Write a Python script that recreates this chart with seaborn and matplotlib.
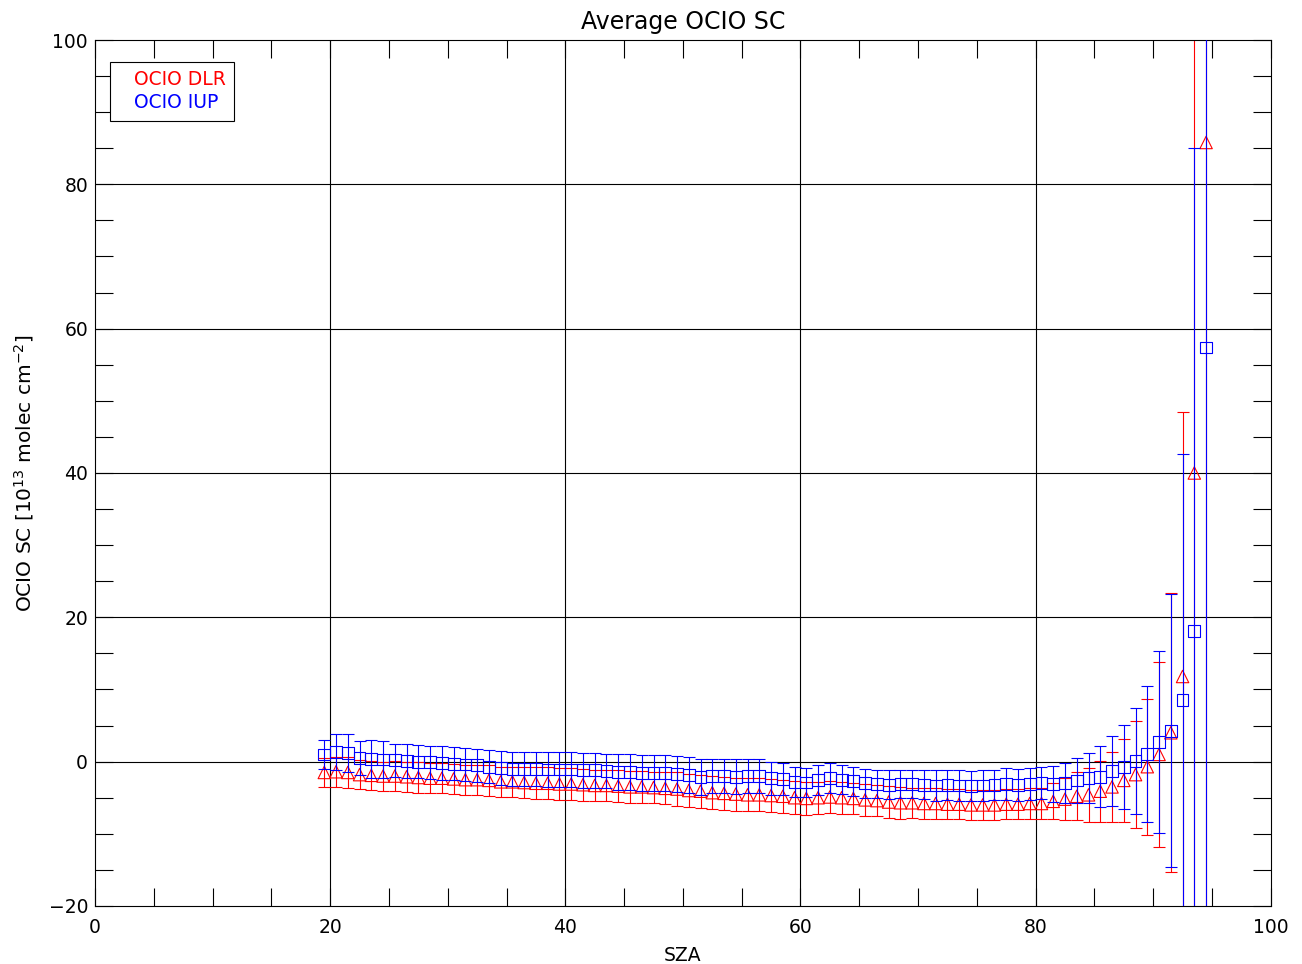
import matplotlib
matplotlib.use('Agg')
import matplotlib.pyplot as plt
from matplotlib.lines import Line2D
from matplotlib.ticker import MultipleLocator
import pandas as pd
import seaborn as sns

# solar zenith angle bins
sza = [19.5, 20.5, 21.5, 22.5, 23.5, 24.5, 25.5, 26.5, 27.5, 28.5,
       29.5, 30.5, 31.5, 32.5, 33.5, 34.5, 35.5, 36.5, 37.5, 38.5,
       39.5, 40.5, 41.5, 42.5, 43.5, 44.5, 45.5, 46.5, 47.5, 48.5,
       49.5, 50.5, 51.5, 52.5, 53.5, 54.5, 55.5, 56.5, 57.5, 58.5,
       59.5, 60.5, 61.5, 62.5, 63.5, 64.5, 65.5, 66.5, 67.5, 68.5,
       69.5, 70.5, 71.5, 72.5, 73.5, 74.5, 75.5, 76.5, 77.5, 78.5,
       79.5, 80.5, 81.5, 82.5, 83.5, 84.5, 85.5, 86.5, 87.5, 88.5,
       89.5, 90.5, 91.5, 92.5, 93.5, 94.5]

# OClO slant columns, DLR
dlr = [-1.5, -1.4, -1.5, -1.8, -1.9, -2.0, -2.0, -2.1, -2.2, -2.3,
       -2.3, -2.4, -2.5, -2.5, -2.6, -2.8, -2.8, -2.9, -3.0, -3.0,
       -3.1, -3.1, -3.2, -3.3, -3.3, -3.4, -3.5, -3.5, -3.6, -3.7,
       -3.8, -4.0, -4.1, -4.3, -4.4, -4.5, -4.6, -4.6, -4.7, -4.8,
       -5.0, -5.1, -5.0, -4.9, -5.0, -5.1, -5.3, -5.4, -5.6, -5.7,
       -5.7, -5.8, -5.8, -5.9, -5.9, -6.0, -6.0, -6.0, -5.9, -5.9,
       -5.8, -5.8, -5.5, -5.2, -4.8, -4.6, -4.1, -3.5, -2.6, -1.8,
       -0.7, 1.0, 4.0, 11.8, 40.0, 85.8]
dlr_err = [2.0, 2.1, 2.1, 2.0, 2.0, 2.0, 2.1, 2.1, 2.1, 2.1,
           2.1, 2.1, 2.1, 2.1, 2.1, 2.1, 2.1, 2.1, 2.2, 2.2,
           2.2, 2.2, 2.2, 2.2, 2.2, 2.2, 2.2, 2.2, 2.2, 2.2,
           2.3, 2.3, 2.3, 2.3, 2.3, 2.3, 2.3, 2.3, 2.3, 2.3,
           2.3, 2.3, 2.2, 2.2, 2.2, 2.2, 2.2, 2.2, 2.2, 2.2,
           2.1, 2.1, 2.1, 2.1, 2.1, 2.1, 2.1, 2.1, 2.1, 2.1,
           2.2, 2.2, 2.5, 2.9, 3.3, 3.7, 4.2, 4.8, 5.8, 7.4,
           9.4, 12.8, 19.3, 36.7, 75.0, 120.0]

# OClO slant columns, IUP
iup = [1.0, 1.3, 1.2, 0.5, 0.4, 0.3, 0.2, 0.1, 0.0, -0.1,
       -0.2, -0.3, -0.4, -0.5, -0.7, -0.9, -1.0, -1.0, -1.0, -1.1,
       -1.1, -1.1, -1.2, -1.2, -1.3, -1.4, -1.4, -1.6, -1.6, -1.6,
       -1.7, -1.9, -2.1, -2.0, -2.0, -2.1, -2.0, -2.0, -2.3, -2.4,
       -2.8, -2.9, -2.5, -2.3, -2.5, -2.7, -3.0, -3.1, -3.2, -3.1,
       -3.1, -3.2, -3.3, -3.2, -3.3, -3.4, -3.3, -3.2, -3.1, -3.2,
       -3.1, -3.0, -3.1, -3.0, -2.6, -2.3, -2.1, -1.3, -0.7, 0.1,
       1.1, 2.7, 4.3, 8.5, 18.1, 57.4]
iup_err = [2.0, 2.5, 2.6, 2.4, 2.6, 2.6, 2.3, 2.3, 2.3, 2.3,
           2.3, 2.3, 2.3, 2.3, 2.3, 2.4, 2.4, 2.4, 2.4, 2.4,
           2.4, 2.4, 2.4, 2.4, 2.4, 2.5, 2.5, 2.5, 2.5, 2.5,
           2.5, 2.5, 2.5, 2.4, 2.4, 2.4, 2.3, 2.3, 2.3, 2.2,
           2.1, 2.0, 2.1, 2.1, 2.0, 2.0, 2.0, 2.0, 2.0, 2.0,
           2.0, 2.0, 2.1, 2.1, 2.1, 2.1, 2.1, 2.1, 2.2, 2.2,
           2.2, 2.2, 2.5, 2.8, 3.1, 3.5, 4.2, 4.8, 5.8, 7.35,
           9.4, 12.6, 18.9, 34.1, 66.9, 100.0]

df = pd.DataFrame({'sza': sza, 'dlr': dlr, 'dlr_err': dlr_err,
                   'iup': iup, 'iup_err': iup_err})

sns.set_theme(style='white')
plt.rcParams['font.family'] = ['DejaVu Sans']
plt.rcParams['axes.linewidth'] = 0.8
plt.rcParams['text.color'] = 'black'
plt.rcParams['axes.labelcolor'] = 'black'

fig = plt.figure(figsize=(13.02, 9.64), dpi=100)
ax = fig.add_axes([0.073, 0.0602, 0.903, 0.8983])

# grid lines at major ticks
for gx in [20, 40, 60, 80]:
    ax.axvline(gx, color='black', lw=0.8, zorder=0)
for gy in [0, 20, 40, 60, 80]:
    ax.axhline(gy, color='black', lw=0.8, zorder=0)

# DLR: red triangles with error bars
ax.errorbar(df['sza'], df['dlr'], yerr=df['dlr_err'], fmt='none',
            ecolor='red', elinewidth=0.8, capsize=4.3, capthick=0.8, zorder=2)
sns.scatterplot(data=df, x='sza', y='dlr', marker='^', s=80,
                facecolor='none', edgecolor='red', linewidth=0.8, ax=ax, zorder=3)

# IUP: blue squares with error bars
ax.errorbar(df['sza'], df['iup'], yerr=df['iup_err'], fmt='none',
            ecolor='blue', elinewidth=0.8, capsize=4.3, capthick=0.8, zorder=4)
sns.scatterplot(data=df, x='sza', y='iup', marker='s', s=72,
                facecolor='none', edgecolor='blue', linewidth=0.8, ax=ax, zorder=5)

ax.set_xlim(0, 100)
ax.set_ylim(-20, 100)
ax.xaxis.set_major_locator(MultipleLocator(20))
ax.xaxis.set_minor_locator(MultipleLocator(5))
ax.yaxis.set_major_locator(MultipleLocator(20))
ax.yaxis.set_minor_locator(MultipleLocator(5))
ax.tick_params(which='both', direction='in', top=True, right=True,
               bottom=True, left=True, length=13, width=0.8, color='black',
               labelcolor='black', labelsize=13.5)
ax.tick_params(axis='x', pad=9)
ax.tick_params(axis='y', pad=5)
for sp in ax.spines.values():
    sp.set_color('black')

ax.set_title('Average OCIO SC', fontsize=17, pad=8, color='black')
ax.set_xlabel('SZA', fontsize=13.5, labelpad=6)
ax.set_ylabel('OCIO SC [10$^{13}$ molec cm$^{-2}$]', fontsize=14.5, labelpad=9)

handles = [Line2D([], [], color='none'), Line2D([], [], color='none')]
leg = ax.legend(handles, ['OCIO DLR', 'OCIO IUP'], labelcolor=['red', 'blue'],
                loc='upper left', bbox_to_anchor=(0.0128, 0.9746), borderaxespad=0,
                handlelength=0, handletextpad=0.8, borderpad=0.45, labelspacing=0.2,
                fancybox=False, framealpha=1, edgecolor='black', fontsize=13.5)
leg.get_frame().set_linewidth(0.8)

fig.savefig('out.png', dpi=100)
